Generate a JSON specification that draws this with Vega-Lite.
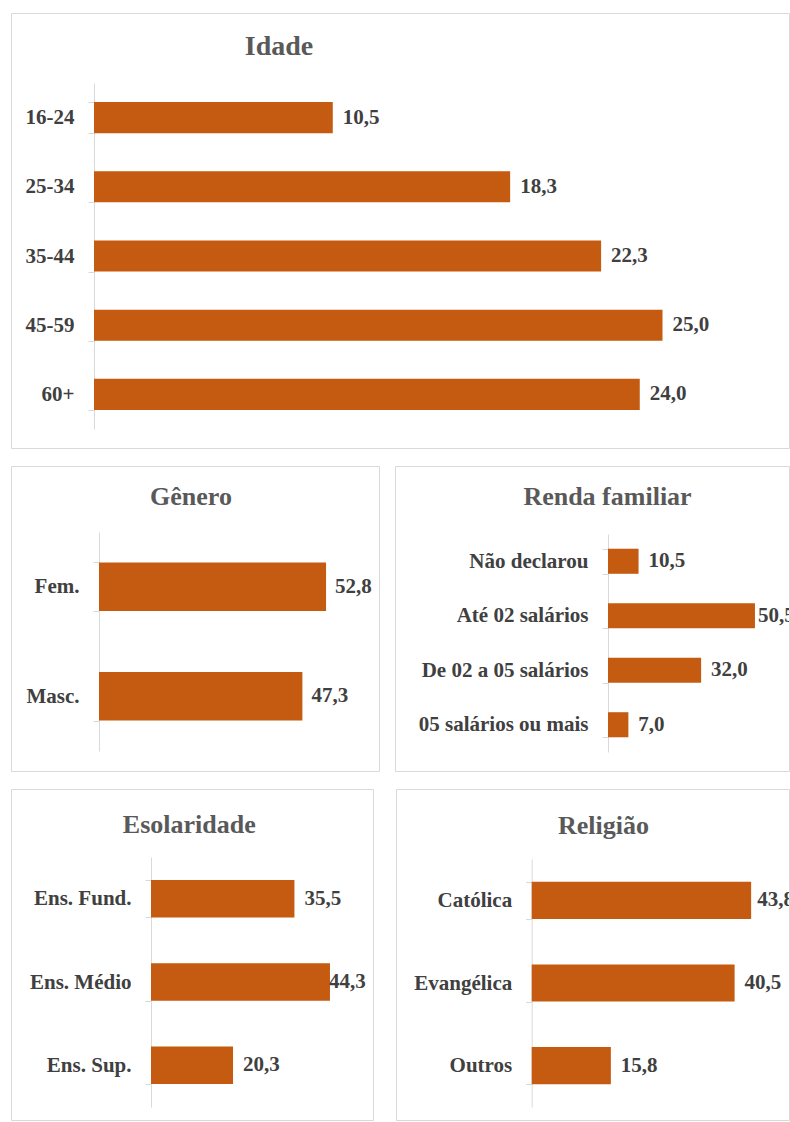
{
  "$schema": "https://vega.github.io/schema/vega-lite/v6.json",
  "background": "white",
  "padding": {"left": 10, "top": 1, "right": 0, "bottom": 0},
  "autosize": {"type": "pad"},
  "config": {
    "view": {"stroke": "#d9d9d9", "strokeWidth": 1},
    "locale": {"number": {"decimal": ",", "thousands": ".", "grouping": [3], "currency": ["R$", ""]}},
    "axis": {
      "domainColor": "#d9d9d9", "tickColor": "#d9d9d9", "tickSize": 6, "labelPadding": 14,
      "labelFont": "Liberation Serif", "labelFontWeight": "bold", "labelFontSize": 21,
      "labelColor": "#404040", "labelLimit": 0, "tickBand": "extent", "grid": false, "title": null
    },
    "title": {"font": "Liberation Serif", "fontWeight": "bold", "color": "#595959", "anchor": "middle", "frame": "group", "offset": 0, "baseline": "alphabetic"},
    "text": {"font": "Liberation Serif", "fontWeight": "bold", "fontSize": 21, "color": "#404040", "align": "left", "baseline": "middle"},
    "bar": {"color": "#C55A11"}
  },
  "vconcat": [
    {
      "width": 778, "height": 435,
      "title": {"text": "Idade", "fontSize": 28, "dx": -121, "dy": 63},
      "data": {"values": [
        {"cat": "16-24", "v": 10.5}, {"cat": "25-34", "v": 18.3}, {"cat": "35-44", "v": 22.3},
        {"cat": "45-59", "v": 25.0}, {"cat": "60+", "v": 24.0}
      ]},
      "encoding": {
        "y": {"field": "cat", "type": "nominal", "sort": null,
              "scale": {"range": [70, 416], "paddingInner": 0.55, "paddingOuter": 0.275},
              "axis": {"offset": -83}},
        "x": {"field": "v", "type": "quantitative", "scale": {"domain": [0, 30], "range": [83, 765.2]}, "axis": null}
      },
      "layer": [
        {"mark": {"type": "bar"}},
        {"mark": {"type": "text", "dx": 10, "clip": true}, "encoding": {"text": {"field": "v", "type": "quantitative", "format": ".1f"}}}
      ]
    },
    {
      "hconcat": [
        {
          "width": 368, "height": 305,
          "title": {"text": "Gênero", "fontSize": 26, "dx": -4, "dy": 59},
          "data": {"values": [{"cat": "Fem.", "v": 52.8}, {"cat": "Masc.", "v": 47.3}]},
          "encoding": {
            "y": {"field": "cat", "type": "nominal", "sort": null,
                  "scale": {"range": [66, 285], "paddingInner": 0.555, "paddingOuter": 0.2775},
                  "axis": {"offset": -88}},
            "x": {"field": "v", "type": "quantitative", "scale": {"domain": [0, 60], "range": [88, 346]}, "axis": null}
          },
          "layer": [
            {"mark": {"type": "bar"}},
            {"mark": {"type": "text", "dx": 9, "clip": true}, "encoding": {"text": {"field": "v", "type": "quantitative", "format": ".1f"}}}
          ]
        },
        {
          "width": 394, "height": 305,
          "title": {"text": "Renda familiar", "fontSize": 26, "dx": 15.5, "dy": 59},
          "data": {"values": [
            {"cat": "Não declarou", "v": 10.5}, {"cat": "Até 02 salários", "v": 50.5},
            {"cat": "De 02 a 05 salários", "v": 32.0}, {"cat": "05 salários ou mais", "v": 7.0}
          ]},
          "encoding": {
            "y": {"field": "cat", "type": "nominal", "sort": null,
                  "scale": {"range": [68, 286], "paddingInner": 0.54, "paddingOuter": 0.27},
                  "axis": {"offset": -213}},
            "x": {"field": "v", "type": "quantitative", "scale": {"domain": [0, 60], "range": [213, 387.6]}, "axis": null}
          },
          "layer": [
            {"mark": {"type": "bar"}},
            {"transform": [{"filter": "datum.v <= 50"}],
             "mark": {"type": "text", "dx": 10, "clip": true}, "encoding": {"text": {"field": "v", "type": "quantitative", "format": ".1f"}}},
            {"transform": [{"filter": "datum.v > 50"}],
             "mark": {"type": "text", "dx": 3, "clip": true}, "encoding": {"text": {"field": "v", "type": "quantitative", "format": ".1f"}}}
          ]
        }
      ],
      "spacing": 16, "bounds": "flush"
    },
    {
      "hconcat": [
        {
          "width": 362, "height": 331,
          "title": {"text": "Esolaridade", "fontSize": 26, "dx": -2.7, "dy": 64},
          "data": {"values": [{"cat": "Ens. Fund.", "v": 35.5}, {"cat": "Ens. Médio", "v": 44.3}, {"cat": "Ens. Sup.", "v": 20.3}]},
          "encoding": {
            "y": {"field": "cat", "type": "nominal", "sort": null,
                  "scale": {"range": [68, 318], "paddingInner": 0.55, "paddingOuter": 0.275},
                  "axis": {"offset": -140}},
            "x": {"field": "v", "type": "quantitative", "scale": {"domain": [0, 50], "range": [140, 342]}, "axis": null}
          },
          "layer": [
            {"mark": {"type": "bar"}},
            {"transform": [{"filter": "datum.v <= 44"}],
             "mark": {"type": "text", "dx": 10, "clip": true}, "encoding": {"text": {"field": "v", "type": "quantitative", "format": ".1f"}}},
            {"transform": [{"filter": "datum.v > 44"}],
             "mark": {"type": "text", "dx": -1, "clip": true}, "encoding": {"text": {"field": "v", "type": "quantitative", "format": ".1f"}}}
          ]
        },
        {
          "width": 393, "height": 331,
          "title": {"text": "Religião", "fontSize": 26, "dx": 11, "dy": 65},
          "data": {"values": [{"cat": "Católica", "v": 43.8}, {"cat": "Evangélica", "v": 40.5}, {"cat": "Outros", "v": 15.8}]},
          "encoding": {
            "y": {"field": "cat", "type": "nominal", "sort": null,
                  "scale": {"range": [70, 318], "paddingInner": 0.55, "paddingOuter": 0.275},
                  "axis": {"offset": -135.7}},
            "x": {"field": "v", "type": "quantitative", "scale": {"domain": [0, 50], "range": [135.7, 386.2]}, "axis": null}
          },
          "layer": [
            {"mark": {"type": "bar"}},
            {"transform": [{"filter": "datum.v <= 43"}],
             "mark": {"type": "text", "dx": 10, "clip": true}, "encoding": {"text": {"field": "v", "type": "quantitative", "format": ".1f"}}},
            {"transform": [{"filter": "datum.v > 43"}],
             "mark": {"type": "text", "dx": 6, "clip": true}, "encoding": {"text": {"field": "v", "type": "quantitative", "format": ".1f"}}}
          ]
        }
      ],
      "spacing": 23, "bounds": "flush"
    }
  ],
  "spacing": 5
}
